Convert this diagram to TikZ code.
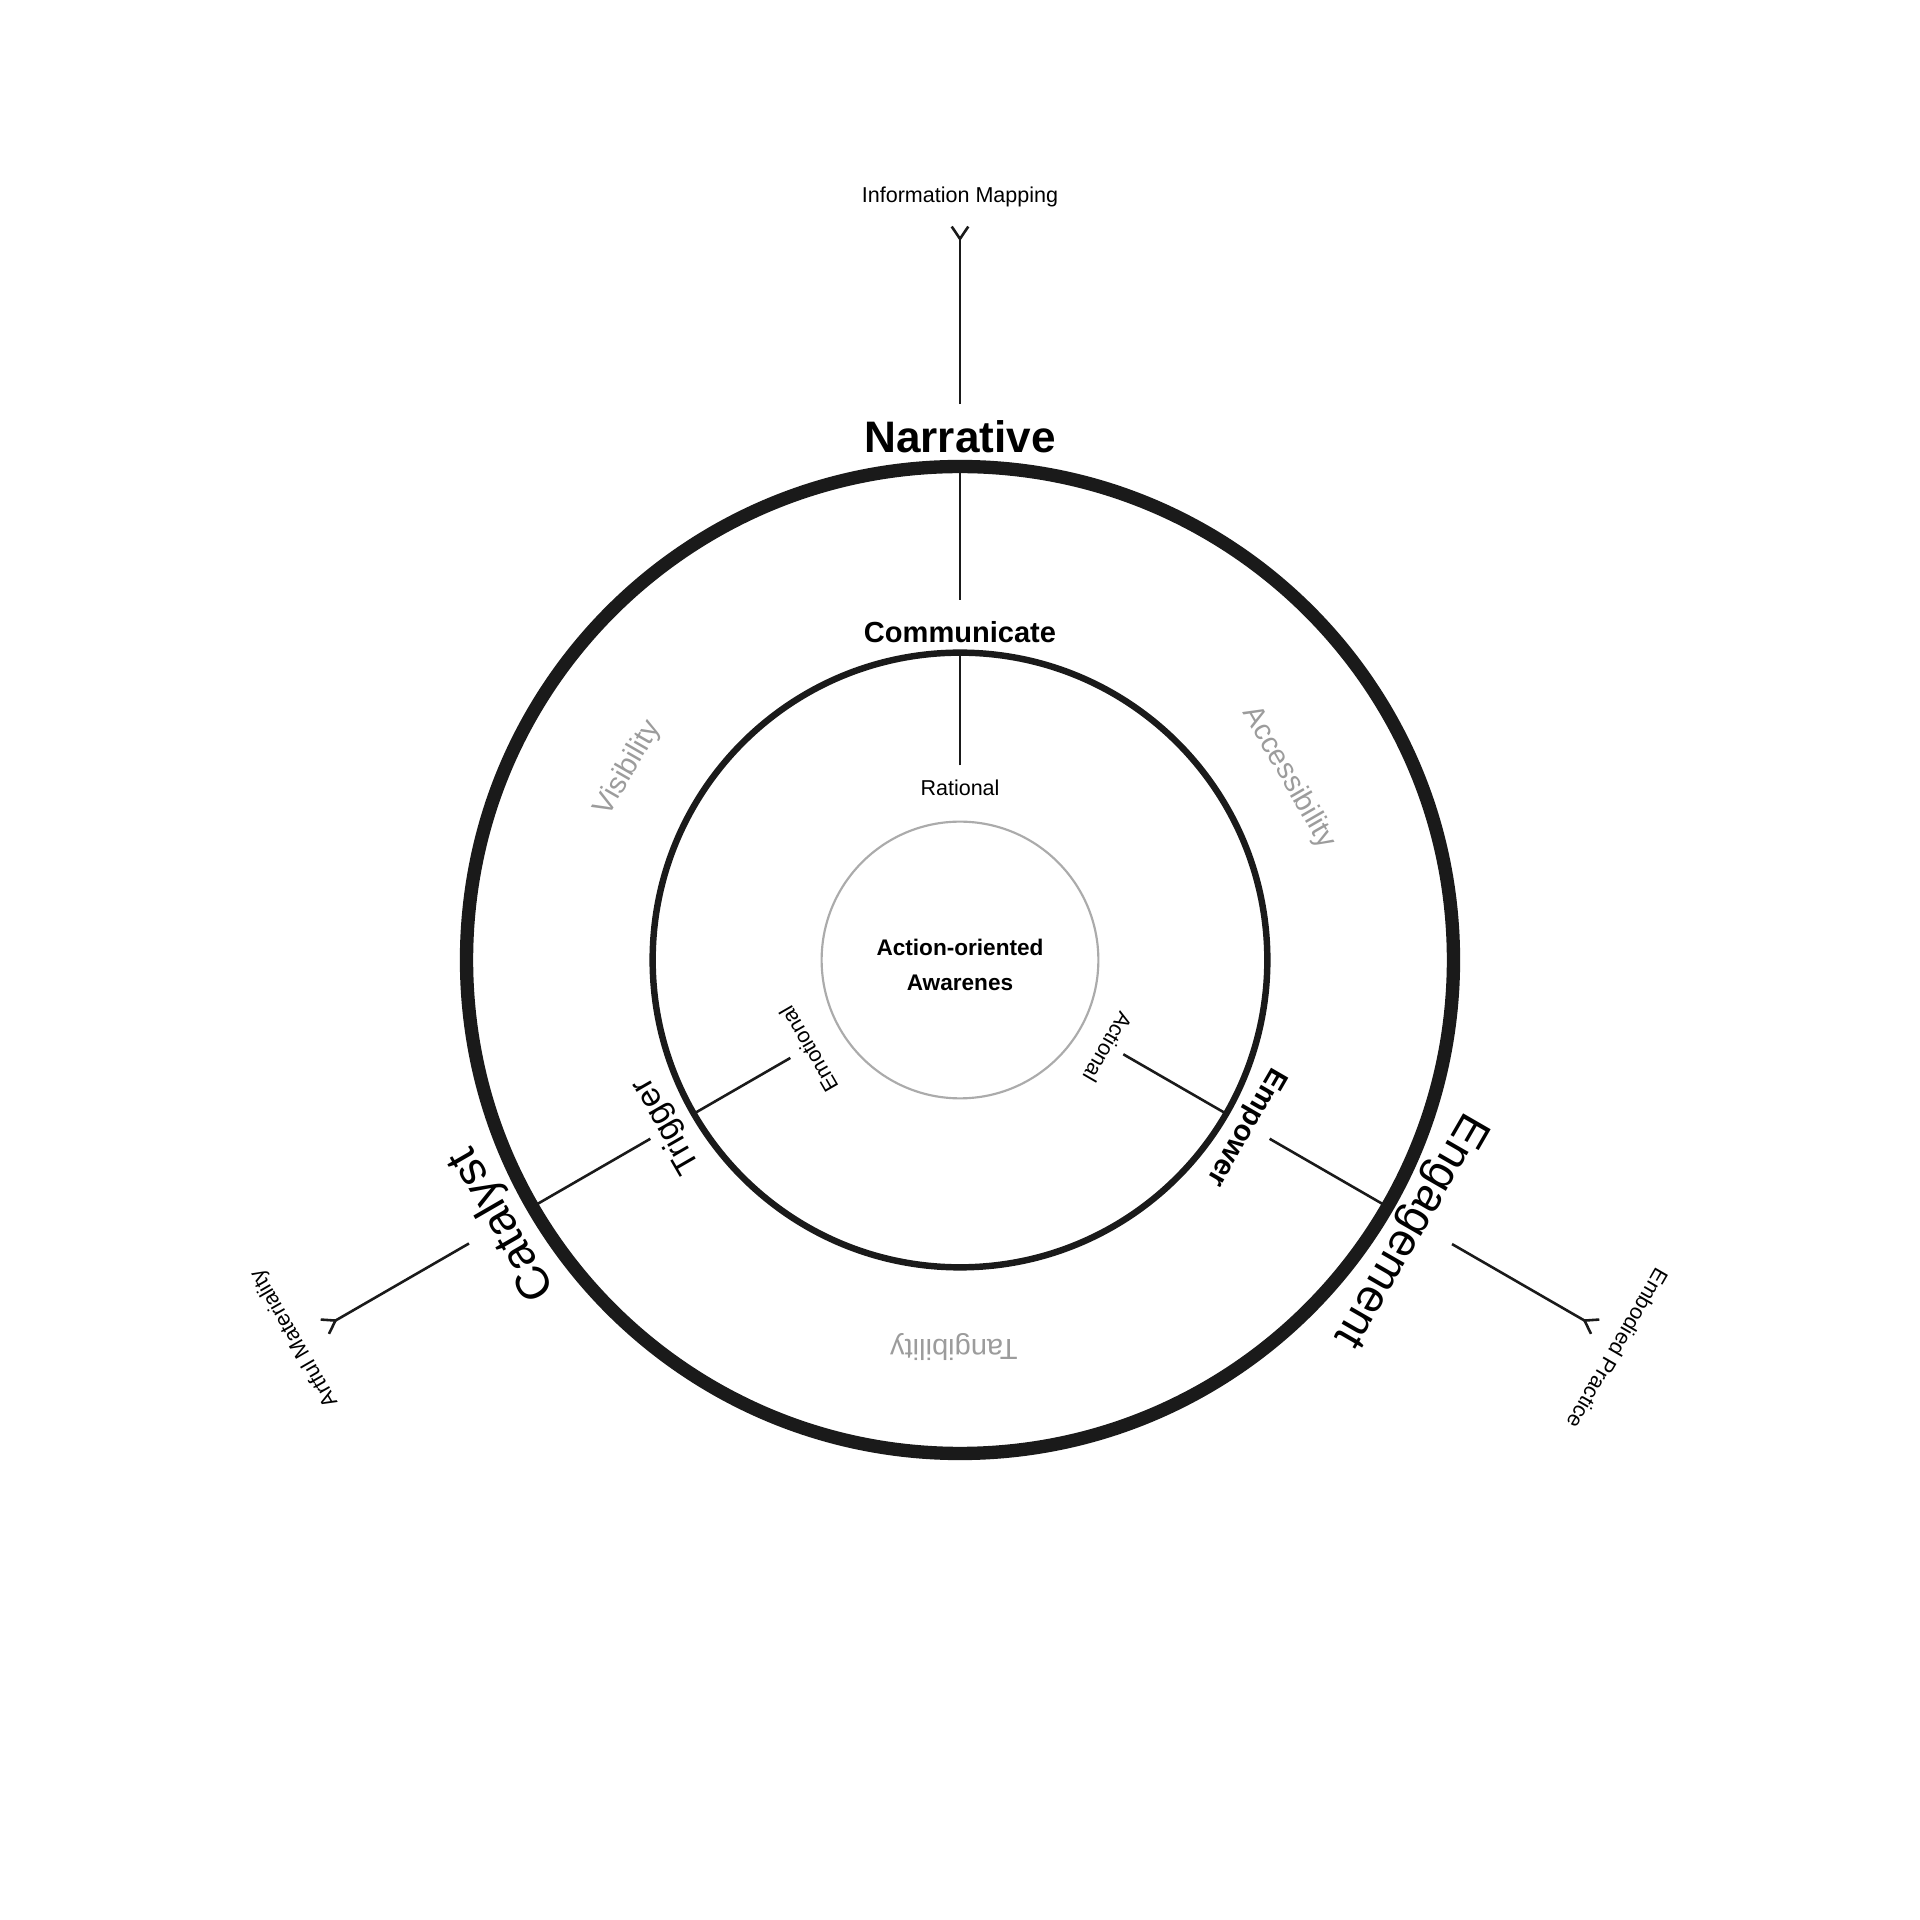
\documentclass[tikz,border=0pt]{standalone}
\usepackage{fontspec}
\setmainfont{Liberation Sans}
\usetikzlibrary{arrows.meta, positioning}

\definecolor{ringdark}{HTML}{1A1A1A}
\definecolor{softgray}{HTML}{9C9C9C}
\definecolor{coregray}{HTML}{ABABAB}

\begin{document}
\begin{tikzpicture}[
    spoke/.style={ringdark, line width=1.2pt},
    fork/.style={spoke, -{Straight Barb[reversed, length=2mm, width=2.7mm]}},
    smallword/.style={font=\fontsize{10}{12}\selectfont, inner sep=1pt},
    grayword/.style={font=\fontsize{13.5}{16}\selectfont, text=softgray, inner sep=1pt},
    bigword/.style={font=\fontsize{21.5}{26}\selectfont, inner sep=1pt}
]
    \useasboundingbox (-15.68,-15.68) rectangle (15.68,15.68);

    % Rings
    \draw[ringdark, line width=6.2pt] (0,0) circle (8.06);
    \draw[ringdark, line width=3pt] (0,0) circle (5.02);
    \node[circle, draw=coregray, line width=1pt, minimum size=4.52cm, inner sep=0pt] (core) at (0,0) {};
    \node[align=center, font=\bfseries\fontsize{10.5}{16}\selectfont] (aware) at (0,-0.08) {Action-oriented\\Awarenes};

    % Inner labels
    \node[smallword] (rational) at (90:2.82) {Rational};
    \node[smallword, rotate=120] (emotional) at (210.5:2.87) {Emotional};
    \node[smallword, rotate=240] (actional) at (329.5:2.8) {Actional};

    % Middle ring labels
    \node[font=\bfseries\fontsize{13.5}{16}\selectfont, inner sep=1pt] (communicate) at (90:5.36) {Communicate};
    \node[font=\fontsize{15.5}{18}\selectfont, inner sep=1pt, rotate=120] (trigger) at (209.5:5.5) {Trigger};
    \node[font=\bfseries\fontsize{13.5}{16}\selectfont, inner sep=1pt, rotate=240] (empower) at (329.7:5.4) {Empower};

    % Outer ring labels
    \node[bigword, font=\bfseries\fontsize{20.5}{25}\selectfont] (narrative) at (90:8.54) {Narrative};
    \node[bigword, rotate=120] (catalyst) at (210:8.62) {Catalyst};
    \node[bigword, rotate=240] (engagement) at (329:8.56) {Engagement};

    % Gray band labels
    \node[grayword, rotate=60] (visibility) at (150:6.26) {Visibility};
    \node[grayword, rotate=-60] (accessibility) at (29:6.14) {Accessibility};
    \node[grayword, rotate=180] (tangibility) at (269.1:6.32) {Tangibility};

    % Far labels
    \node[smallword] (infomap) at (90:12.46) {Information Mapping};
    \node[smallword, rotate=120] (artful) at (209.6:12.5) {Artful Materiality};
    \node[smallword, rotate=240] (embodied) at (329.4:12.48) {Embodied Practice};

    % Spoke points
    \coordinate (n0) at (90:3.18);
    \coordinate (n1) at (90:5.02);
    \coordinate (n2) at (90:5.88);
    \coordinate (n3) at (90:8.06);
    \coordinate (n4) at (90:9.08);
    \coordinate (n5) at (90:12.0);

    \coordinate (c0) at (210:3.2);
    \coordinate (c1) at (210:5.02);
    \coordinate (c2) at (210:5.84);
    \coordinate (c3) at (210:8.06);
    \coordinate (c4) at (210:9.26);
    \coordinate (c5) at (210:12.0);

    \coordinate (e0) at (330:3.08);
    \coordinate (e1) at (330:5.02);
    \coordinate (e2) at (330:5.84);
    \coordinate (e3) at (330:8.06);
    \coordinate (e4) at (330:9.28);
    \coordinate (e5) at (330:12.0);

    % Spokes
    \draw[spoke] (n0) -- (n1);
    \draw[spoke] (n2) -- (n3);
    \draw[fork] (n4) -- (n5);

    \draw[spoke] (c0) -- (c1);
    \draw[spoke] (c2) -- (c3);
    \draw[fork] (c4) -- (c5);

    \draw[spoke] (e0) -- (e1);
    \draw[spoke] (e2) -- (e3);
    \draw[fork] (e4) -- (e5);
\end{tikzpicture}
\end{document}
